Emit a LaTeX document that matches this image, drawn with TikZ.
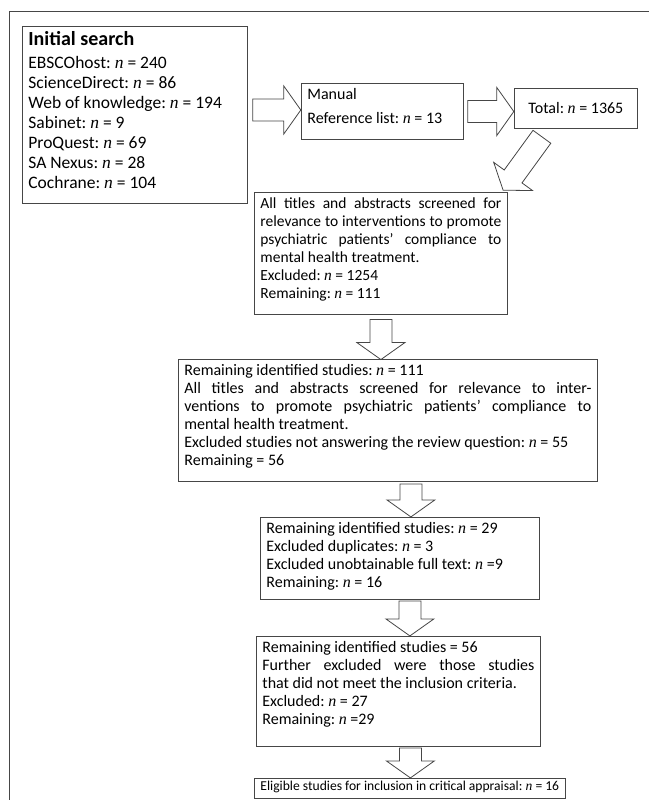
\documentclass[tikz,border=0pt]{standalone}
\usepackage{fontspec}
\setmainfont{Carlito}
\newfontfamily\nfont{Liberation Serif}
\frenchspacing
\usepackage{tikz}
\usetikzlibrary{calc}
\definecolor{boxgrey}{RGB}{70,70,70}
\newcommand{\nval}{{\nfont\itshape n}}
% invisible strut that deepens the last line of a box
\newcommand{\padbelow}[1]{\rule[-#1]{0pt}{#1}}
% hollow block arrow: start point, angle, length
\newcommand{\blockarrow}[3]{%
  \draw[arrowline, shift={#1}, rotate=#2] (0,-11) -- ({#3-17},-11) -- ({#3-17},-24)
    -- (#3,0) -- ({#3-17},24) -- ({#3-17},11) -- (0,11) -- cycle;}
\tikzset{
  box/.style={draw=boxgrey, line width=0.8pt, anchor=north west, inner xsep=6pt,
    inner ysep=5pt, align=justify, font=\fontsize{16}{18}\selectfont},
  arrowline/.style={draw=boxgrey, line width=0.8pt, fill=white},
}

\begin{document}
\begin{tikzpicture}[x=1pt, y=-1pt]
  \useasboundingbox (0,0) rectangle (649,800);
  % outer frame
  \draw[boxgrey, line width=0.8pt] (9,800) -- (9,11) -- (649,11);
  % top row: searches
  \node[box, text width=213pt, font=\fontsize{17.5}{20}\selectfont]
    (init) at (22,26)
    {{\fontsize{20}{22}\selectfont\bfseries Initial search}\newline
     \rule{0pt}{22pt}EBSCOhost: \nval{} = 240\newline
     ScienceDirect: \nval{} = 86\newline
     Web of knowledge: \nval{} = 194\newline
     Sabinet: \nval{} = 9\newline
     ProQuest: \nval{} = 69\newline
     SA Nexus: \nval{} = 28\newline
     Cochrane: \nval{} = 104\padbelow{10pt}};
  \node[box, text width=150pt] (manual) at (301,83)
    {Manual\newline
     \rule{0pt}{23pt}Reference list: \nval{} = 13\padbelow{11pt}};
  \node[box, minimum height=40pt, minimum width=123pt] (total) at (514,88)
    {Total: \nval{} = 1365};
  \blockarrow{($(init.east)+(5,-5)$)}{0}{48}
  \blockarrow{($(manual.east)+(4,0)$)}{0}{46}
  \blockarrow{($(total.south)+(-34,8)$)}{-126}{66}
  % screening steps
  \node[box, text width=241pt, font=\fontsize{15.5}{18}\selectfont] (screen) at (254,192)
    {All titles and abstracts screened for\linebreak
     relevance to interventions to promote\linebreak
     psychiatric patients’ compliance to\linebreak
     mental health treatment.\newline
     Excluded: \nval{} = 1254\newline
     Remaining: \nval{} = 111\padbelow{11pt}};
  \blockarrow{($(screen.south)+(0,5)$)}{-90}{40}
  \node[box, text width=407pt] (relevant) at (178,359)
    {Remaining identified studies: \nval{} = 111\newline
     All titles and abstracts screened for relevance to inter-\linebreak
     ventions to promote psychiatric patients’ compliance to\linebreak
     mental health treatment.\newline
     Excluded studies not answering the review question: \nval{} = 55\newline
     Remaining = 56\padbelow{11pt}};
  \blockarrow{($(relevant.south)+(23,2)$)}{-90}{33}
  \node[box, text width=267pt] (dupl) at (260,517)
    {Remaining identified studies: \nval{} = 29\newline
     Excluded duplicates: \nval{} = 3\newline
     Excluded unobtainable full text: \nval{} =9\newline
     Remaining: \nval{} = 16\padbelow{7pt}};
  \blockarrow{($(dupl.south)+(10,1)$)}{-90}{35}
  \node[box, text width=272pt] (criteria) at (256,636)
    {Remaining identified studies = 56\newline
     Further excluded were those studies\linebreak
     that did not meet the inclusion criteria.\newline
     Excluded: \nval{} = 27\newline
     Remaining: \nval{} =29\padbelow{17pt}};
  \blockarrow{($(criteria.south)+(12,1)$)}{-90}{30}
  \node[box, inner ysep=3pt, font=\fontsize{13.6}{16}\selectfont]
    (eligible) at ($(criteria.south west)+(-2,31)$)
    {Eligible studies for inclusion in critical appraisal: \nval{} = 16\padbelow{5pt}};
\end{tikzpicture}
\end{document}
